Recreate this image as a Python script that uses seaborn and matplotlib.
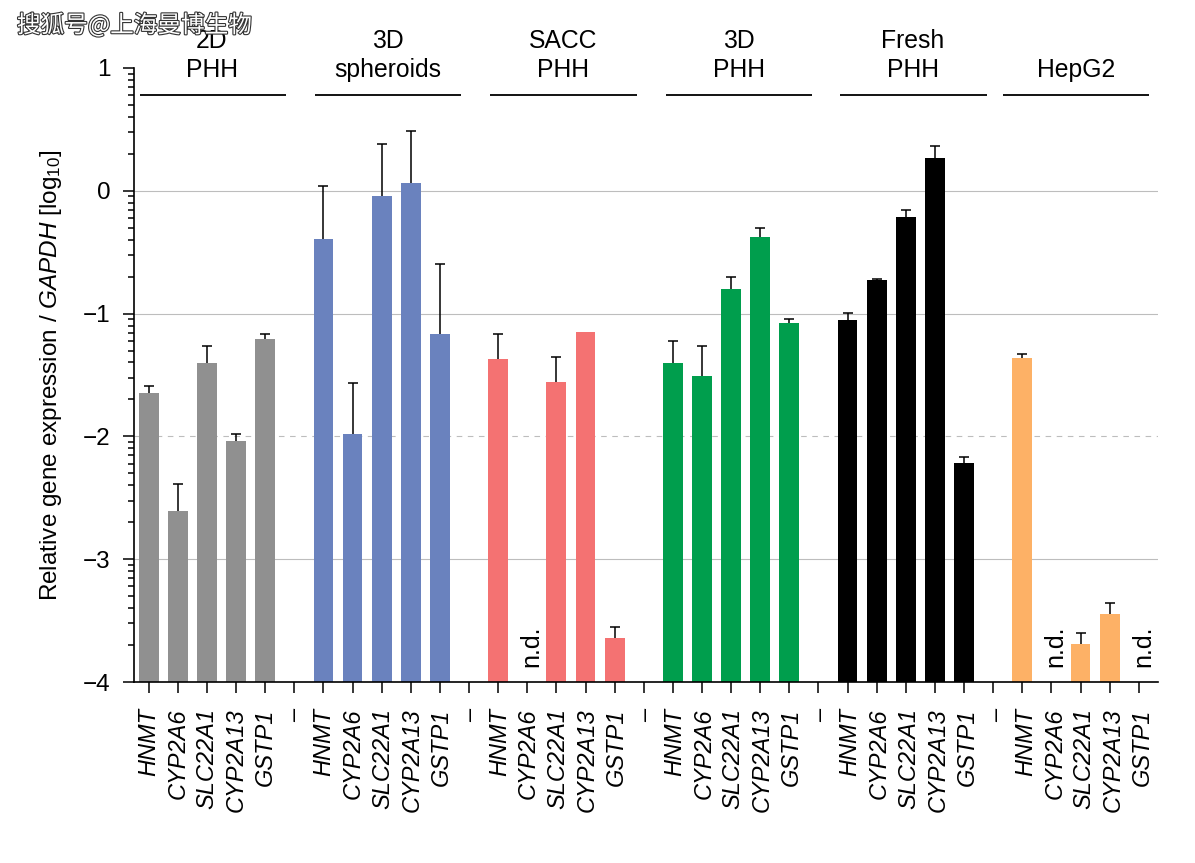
import numpy as np
import pandas as pd
import matplotlib
matplotlib.use("Agg")
import matplotlib.pyplot as plt
import matplotlib.patheffects as pe
from matplotlib.transforms import ScaledTranslation
import seaborn as sns

genes = ["HNMT", "CYP2A6", "SLC22A1", "CYP2A13", "GSTP1"]
group_names = ["2D\nPHH", "3D\nspheroids", "SACC\nPHH", "3D\nPHH", "Fresh\nPHH", "HepG2"]
group_colors = ["#909090", "#6A82BE", "#F47272", "#009E4D", "#000000", "#FDB166"]
BASE = -4

# mean (log10) and top of error bar; None = not detected
means_2d = [-1.65, -2.61, -1.40, -2.04, -1.21]
tops_2d = [-1.59, -2.39, -1.26, -1.98, -1.17]
means_sph = [-0.39, -1.98, -0.04, 0.06, -1.17]
tops_sph = [0.04, -1.565, 0.38, 0.49, -0.60]
means_sacc = [-1.37, None, -1.56, -1.15, -3.64]
tops_sacc = [-1.17, None, -1.35, -1.15, -3.55]
means_3d = [-1.40, -1.51, -0.80, -0.38, -1.08]
tops_3d = [-1.22, -1.26, -0.70, -0.30, -1.04]
means_fresh = [-1.05, -0.725, -0.21, 0.265, -2.22]
tops_fresh = [-0.995, -0.72, -0.155, 0.365, -2.17]
means_hep = [-1.36, None, -3.69, -3.45, None]
tops_hep = [-1.33, None, -3.60, -3.36, None]

all_means = [means_2d, means_sph, means_sacc, means_3d, means_fresh, means_hep]
all_tops = [tops_2d, tops_sph, tops_sacc, tops_3d, tops_fresh, tops_hep]

rows, labels = [], []
pos = 0
for g, (ms, ts) in enumerate(zip(all_means, all_tops)):
    for gene, m, t in zip(genes, ms, ts):
        rows.append(dict(pos=pos, group=g, gene=gene, mean=m, top=t))
        labels.append(gene)
        pos += 1
    if g < len(all_means) - 1:
        labels.append("\u2013")
        pos += 1
n_pos = pos
df = pd.DataFrame(rows)
df["mean"] = pd.to_numeric(df["mean"])
df["top"] = pd.to_numeric(df["top"])
df["height"] = df["mean"] - BASE

sns.set_theme(style="ticks")
plt.rcParams["font.family"] = ["Liberation Sans", "DejaVu Sans"]
plt.rcParams["mathtext.fontset"] = "custom"
plt.rcParams["mathtext.rm"] = "Liberation Sans"
plt.rcParams["mathtext.it"] = "Liberation Sans:italic"
plt.rcParams["mathtext.default"] = "regular"
plt.rcParams["text.color"] = "black"
plt.rcParams["axes.labelcolor"] = "black"
plt.rcParams["xtick.color"] = "black"
plt.rcParams["ytick.color"] = "black"

W, H = 1195, 863
fig = plt.figure(figsize=(W / 100, H / 100), dpi=100)
ax = fig.add_axes([134 / W, 1 - 682 / H, (1158 - 134) / W, (682 - 68) / H])

for v, ls in [(0, "-"), (-1, "-"), (-2, (0, (5, 5))), (-3, "-")]:
    ax.axhline(v, color="#bdbdbd", lw=0.8, ls=ls, zorder=0)

sns.barplot(
    data=df, x="pos", y="height", hue="group", order=list(range(n_pos)),
    palette=group_colors, dodge=False, legend=False, errorbar=None,
    width=0.68, bottom=BASE, ax=ax, zorder=2, linewidth=0, saturation=1,
)
for p in ax.patches:
    p.set_zorder(2)

d = df.dropna(subset=["mean"])
ax.errorbar(d["pos"], d["mean"], yerr=[np.zeros(len(d)), d["top"] - d["mean"]],
            fmt="none", ecolor="black", elinewidth=1.1, capsize=0, zorder=3)
ax.plot(d["pos"][d["top"] > d["mean"]], d["top"][d["top"] > d["mean"]],
        ls="none", marker="_", ms=7.5, mew=1.1, color="black", zorder=3)

for _, r in df[df["mean"].isna()].iterrows():
    ax.text(r["pos"] + 0.15, -3.88, "n.d.", rotation=90, ha="center", va="bottom",
            fontsize=18, color="black")

ax.set_xlim(-0.505, 34.66)
ax.set_ylim(BASE, 1)
ax.set_xticks(range(n_pos))
ax.set_xticklabels(labels, rotation=90, fontsize=17, style="italic", va="top", ha="center")
ax.set_yticks(range(-4, 2))
ax.set_yticklabels(["\u22124", "\u22123", "\u22122", "\u22121", "0", "1"], fontsize=17.5)
minor = [d0 + np.log10(k) for d0 in range(-4, 1) for k in range(2, 10)]
ax.set_yticks(minor, minor=True)
ax.tick_params(axis="both", which="major", length=8, width=1.1, color="black", pad=9)
ax.tick_params(axis="x", pad=11)
ax.tick_params(axis="y", which="minor", length=4.5, width=1.1, color="black")
for i, t in enumerate(ax.get_xticklabels()):
    t.set_transform(t.get_transform() + ScaledTranslation(i * 0.11 / 100, 0, fig.dpi_scale_trans))
ax.set_xlabel("")
ax.set_ylabel("Relative gene expression / $\\mathit{GAPDH}$ [log$_{10}$]", fontsize=17.5)
ax.yaxis.set_label_coords(-0.0685, 0.5 + (682 - 68 - 2 * (682 - 375)) / (2 * 614))
for s in ["top", "right"]:
    ax.spines[s].set_visible(False)
for s in ["left", "bottom"]:
    ax.spines[s].set_linewidth(1.2)
    ax.spines[s].set_color("black")

line_spans = [(-0.30, 4.72), (5.71, 10.72), (11.72, 16.77), (17.76, 22.78), (23.74, 28.79), (29.34, 34.35)]
text_centers = [2.17, 8.22, 14.23, 20.27, 26.25, 31.84]
y_line = 0.78
for name, (a, b), c in zip(group_names, line_spans, text_centers):
    ax.plot([a, b], [y_line, y_line], color="black", lw=1.3, clip_on=False, solid_capstyle="butt")
    ax.text(c, 0.89, name, ha="center", va="bottom", fontsize=17.8, linespacing=1.22, clip_on=False)

fig.text(17 / W, 1 - 25 / H, "搜狐号@上海曼博生物", family=["Noto Sans CJK SC", "DejaVu Sans"],
         fontsize=17, color="white", va="center", ha="left", zorder=10,
         path_effects=[pe.withStroke(linewidth=1.6, foreground="#333333")])

fig.savefig("out.png", dpi=100, facecolor="white")
